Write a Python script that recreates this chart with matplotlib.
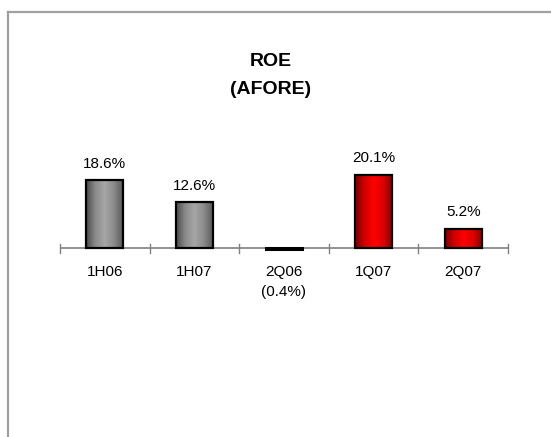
import numpy as np
import matplotlib.pyplot as plt
from matplotlib.colors import LinearSegmentedColormap
from matplotlib.lines import Line2D

plt.rcParams["font.family"] = ["Liberation Sans", "DejaVu Sans"]

categories = ["1H06", "1H07", "2Q06", "1Q07", "2Q07"]
roe = [18.6, 12.6, -0.4, 20.1, 5.2]
value_labels = ["18.6%", "12.6%", "(0.4%)", "20.1%", "5.2%"]
bar_style = ["gray", "gray", "black", "red", "red"]

gradients = {
    "gray": LinearSegmentedColormap.from_list(
        "gray_bar", ["#4a4a4a", "#8a8a8a", "#a6a6a6", "#8c8c8c", "#5a5a5a"]),
    "red": LinearSegmentedColormap.from_list(
        "red_bar", ["#7a0000", "#d00000", "#ff0000", "#e00000", "#8a0000"]),
    "black": LinearSegmentedColormap.from_list("black_bar", ["#000000", "#000000"]),
}

W, H = 551, 437
fig = plt.figure(figsize=(W / 100, H / 100), dpi=100)

# grey frame around the panel (left and top edges)
fig.add_artist(Line2D([8 / W, 8 / W], [0, 1 - 12 / H], color="#a0a0a0", lw=1.6))
fig.add_artist(Line2D([8 / W, 1], [1 - 12 / H, 1 - 12 / H], color="#a0a0a0", lw=1.6))

fig.text(271 / W, 1 - 61 / H, "ROE", ha="center", va="center",
         fontsize=14, fontweight="bold")
fig.text(271 / W, 1 - 89 / H, "(AFORE)", ha="center", va="center",
         fontsize=14, fontweight="bold")

# plot area: x from 60 to 508 px, zero line at y = 248 px
ax_left, ax_right = 60, 508
ax_top, ax_bottom = 150, 300
zero_px = 248
px_per_unit = 3.63
ax = fig.add_axes([ax_left / W, 1 - ax_bottom / H,
                   (ax_right - ax_left) / W, (ax_bottom - ax_top) / H])
ax.set_xlim(-0.5, len(categories) - 0.5)
ax.set_ylim(-(ax_bottom - zero_px) / px_per_unit, (zero_px - ax_top) / px_per_unit)
ax.axis("off")

x = np.arange(len(categories))
bars = ax.bar(x, roe, width=0.41, color="none", edgecolor="black",
              linewidth=1.6, zorder=3)

# cylinder-like shading inside each bar
grad = np.linspace(0, 1, 256).reshape(1, -1)
for bar, style in zip(bars, bar_style):
    x0, y0 = bar.get_x(), bar.get_y()
    w, h = bar.get_width(), bar.get_height()
    img = ax.imshow(grad, cmap=gradients[style], aspect="auto",
                    extent=[x0, x0 + w, y0, y0 + h], zorder=2)
    img.set_clip_path(bar)
    if style == "black":
        bar.set_facecolor("black")
        bar.set_linewidth(2.2)
ax.set_xlim(-0.5, len(categories) - 0.5)
ax.set_ylim(-(ax_bottom - zero_px) / px_per_unit, (zero_px - ax_top) / px_per_unit)

# zero line with category separators
ax.axhline(0, color="#808080", lw=1.2, zorder=1)
for b in np.arange(len(categories) + 1) - 0.5:
    ax.plot([b, b], [-1.4, 1.0], color="#808080", lw=1.0, clip_on=False, zorder=1)

label_y = -(272 - zero_px) / px_per_unit
neg_y = -(292 - zero_px) / px_per_unit
for xi, cat, val, lab in zip(x, categories, roe, value_labels):
    ax.text(xi, label_y, cat, ha="center", va="center", fontsize=11)
    if val >= 0:
        ax.annotate(lab, (xi, val), xytext=(0, 7), textcoords="offset points",
                    ha="center", va="bottom", fontsize=11)
    else:
        ax.text(xi, neg_y, lab, ha="center", va="center", fontsize=11)

fig.savefig("out.png", dpi=100)
